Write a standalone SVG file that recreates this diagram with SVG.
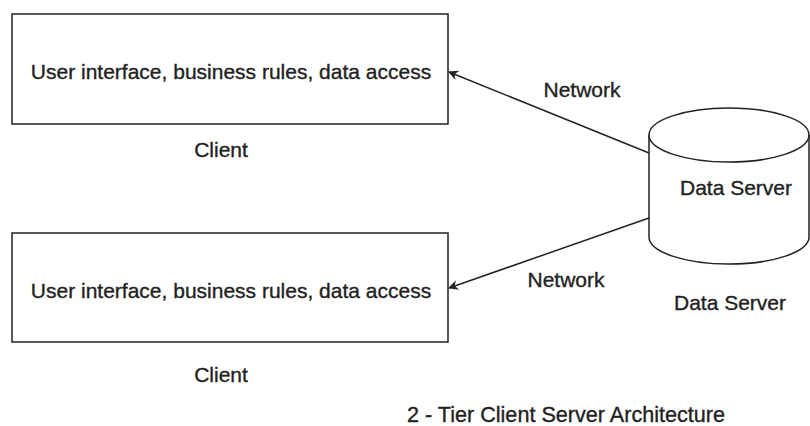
<svg xmlns="http://www.w3.org/2000/svg" width="810" height="426" viewBox="0 0 810 426">
<style>
text{font-family:"Liberation Sans",Arial,sans-serif;font-size:21px;fill:#222;stroke:#222;stroke-width:0.35;text-anchor:middle}
.box{fill:#fff;stroke:#222;stroke-width:1.5}
.edge{fill:none;stroke:#222;stroke-width:1.5}
</style>
<defs>
<marker id="arr" viewBox="0 0 10 10" refX="9" refY="5" markerWidth="10" markerHeight="10" markerUnits="userSpaceOnUse" orient="auto">
<path d="M0,0 L10,5 L0,10 L3,5 Z" fill="#222"/>
</marker>
</defs>
<rect width="810" height="426" fill="#fff"/>
<g id="connectors">
<line class="edge" x1="649" y1="153" x2="449" y2="72" marker-end="url(#arr)"/>
<line class="edge" x1="649" y1="218" x2="449" y2="288" marker-end="url(#arr)"/>
<text x="582" y="97">Network</text>
<text x="566" y="287">Network</text>
</g>
<g id="client1">
<rect class="box" x="12" y="14" width="436" height="110"/>
<text x="231" y="79">User interface, business rules, data access</text>
<text x="221" y="157">Client</text>
</g>
<g id="client2">
<rect class="box" x="12" y="233" width="436" height="109"/>
<text x="231" y="298">User interface, business rules, data access</text>
<text x="221" y="382">Client</text>
</g>
<g id="dataserver">
<path class="box" d="M649,135 L649,237 A80,27 0 0 0 809,237 L809,135 A80,27 0 0 0 649,135 Z"/>
<path class="edge" d="M649,135 A80,27 0 0 0 809,135"/>
<text x="736" y="195">Data Server</text>
<text x="730" y="310">Data Server</text>
</g>
<text x="566" y="422" style="font-size:21.6px">2 - Tier Client Server Architecture</text>
</svg>
